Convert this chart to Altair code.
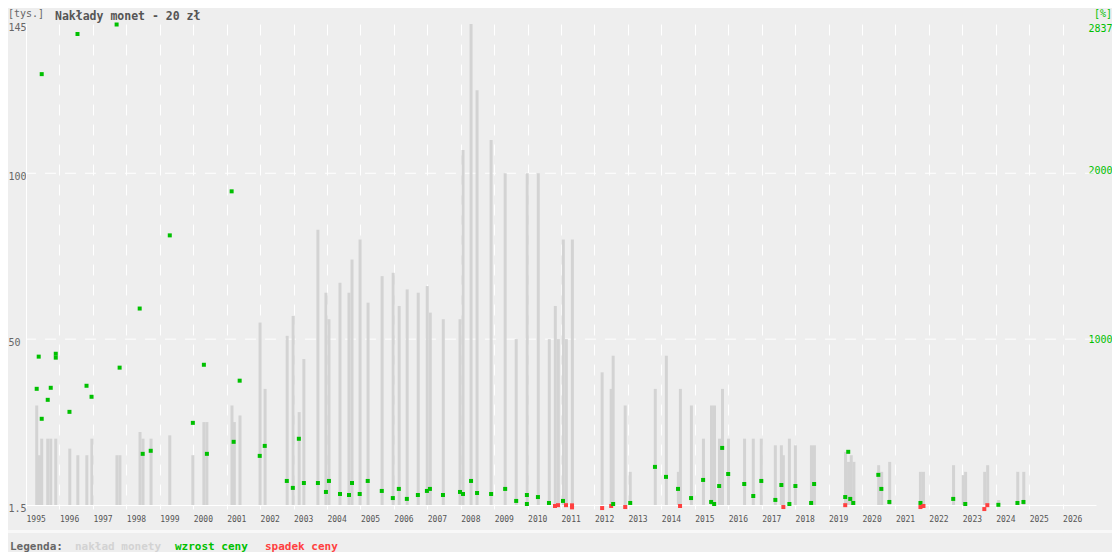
import altair as alt
import pandas as pd

# ---- data (decimal year of issue) ----
bar_year = [1995.32, 1995.40, 1995.47, 1995.65, 1995.74, 1995.89, 1996.31, 1996.55, 1996.82, 1996.97,
            1997.72, 1997.81, 1998.41, 1998.50, 1998.74, 1999.30, 1999.99, 2000.32, 2000.41, 2001.16,
            2001.23, 2001.40, 2002.00, 2002.15, 2002.81, 2002.99, 2003.17, 2003.31, 2003.73, 2003.97,
            2004.06, 2004.39, 2004.66, 2004.75, 2004.99, 2005.23, 2005.65, 2005.98, 2006.16, 2006.40,
            2006.73, 2007.00, 2007.09, 2007.48, 2007.98, 2008.07, 2008.31, 2008.49, 2008.91, 2009.33,
            2009.66, 2009.99, 2010.32, 2010.65, 2010.83, 2010.92, 2011.07, 2011.16, 2011.34, 2012.23,
            2012.50, 2012.56, 2012.92, 2013.07, 2013.82, 2014.15, 2014.51, 2014.57, 2014.90, 2015.26,
            2015.50, 2015.59, 2015.74, 2015.83, 2016.01, 2016.49, 2016.75, 2016.99, 2017.41, 2017.59,
            2017.65, 2017.83, 2018.01, 2018.49, 2018.58, 2019.51, 2019.60, 2019.68, 2019.76, 2020.50,
            2020.59, 2020.83, 2021.75, 2021.84, 2022.74, 2023.03, 2023.10, 2023.67, 2023.76, 2024.09,
            2024.66, 2024.84]
bar_mintage = [30, 15, 20, 20, 20, 20, 17, 15, 15, 20,
               15, 15, 22, 20, 20, 21, 15, 25, 25, 30,
               25, 27, 55, 35, 51, 57, 28, 44, 83, 64,
               56, 67, 64, 74, 80, 61, 69, 70, 60, 65,
               64, 66, 58, 56, 56, 107, 145, 125, 110, 100,
               50, 100, 100, 50, 60, 50, 80, 50, 80, 40,
               35, 45, 30, 10, 35, 45, 10, 35, 30, 20,
               30, 30, 20, 35, 20, 20, 20, 20, 18, 18,
               15, 20, 18, 18, 18, 16, 13, 15, 13, 12,
               10, 13, 10, 10, 12, 9, 10, 10, 12, 1.5,
               10, 10]

dot_year = [1995.32, 1995.38, 1995.47, 1995.47, 1995.65, 1995.74, 1995.89, 1995.89, 1996.30, 1996.54,
            1996.81, 1996.96, 1997.71, 1997.80, 1998.40, 1998.49, 1998.73, 1999.30, 1999.99, 2000.32,
            2000.41, 2001.15, 2001.21, 2001.39, 2001.99, 2002.14, 2002.80, 2002.98, 2003.16, 2003.31,
            2003.73, 2003.97, 2004.06, 2004.39, 2004.66, 2004.75, 2004.98, 2005.22, 2005.64, 2005.97,
            2006.15, 2006.39, 2006.72, 2006.99, 2007.08, 2007.47, 2007.98, 2008.07, 2008.31, 2008.49,
            2008.91, 2009.33, 2009.66, 2009.98, 2009.98, 2010.31, 2010.64, 2010.82, 2010.91, 2011.06,
            2011.15, 2011.33, 2011.33, 2012.23, 2012.50, 2012.56, 2012.92, 2013.07, 2013.81, 2014.14,
            2014.50, 2014.56, 2014.89, 2015.25, 2015.49, 2015.58, 2015.73, 2015.82, 2016.00, 2016.48,
            2016.75, 2016.99, 2017.41, 2017.59, 2017.65, 2017.83, 2018.01, 2018.48, 2018.57, 2019.50,
            2019.50, 2019.59, 2019.65, 2019.74, 2020.49, 2020.58, 2020.82, 2021.75, 2021.75, 2021.84,
            2022.73, 2023.09, 2023.66, 2023.75, 2024.08, 2024.65, 2024.83]
dot_pct = [686, 876, 509, 2544, 621, 692, 893, 870, 550, 2781,
           704, 639, 2837, 811, 1160, 302, 320, 1592, 485, 828,
           302, 1852, 373, 734, 290, 349, 142, 101, 391, 130,
           130, 77, 142, 65, 59, 130, 65, 142, 83, 41,
           95, 36, 59, 83, 95, 59, 77, 65, 142, 71,
           65, 95, 24, 59, 6, 47, 12, -6, -1, 24,
           -1, -2, -14, -18, -6, 6, -12, 12, 225, 166,
           95, -6, 41, 148, 18, 6, 112, 337, 183, 124,
           53, 142, 30, 118, -12, 6, 112, 12, 124, 47,
           -1, 314, 36, 12, 178, 95, 18, 12, -12, -6,
           36, 6, -24, -1, 1, 12, 18]

year_ticks = list(range(1995, 2027))
left_ticks = [0, 50, 100, 145]
right_ticks = [1000, 2000, 2837]
grid_levels = [50, 100]

W, H = 1070, 481
FONT = "DejaVu Sans Mono"
GREEN = "#00c000"
RED = "#ff4040"
BARC = "#d3d3d3"
BG = "#eeeeee"

bars_df = pd.DataFrame({"rok": bar_year, "naklad": bar_mintage})
dots_df = pd.DataFrame({"rok": dot_year, "zmiana": dot_pct})
dots_df["trend"] = ["spadek" if v < 0 else "wzrost" for v in dot_pct]
grid_df = pd.DataFrame({"poziom": grid_levels})

x_scale = alt.Scale(domain=[1995, 2027], nice=False, zero=False, padding=0)
left_scale = alt.Scale(domain=[0, 145], nice=False)
right_scale = alt.Scale(domain=[0, 2840], nice=False)

x_axis = alt.Axis(values=year_ticks, format="d", title=None, labelAlign="left",
                  labelFont=FONT, labelFontSize=8, labelColor="#555555", labelPadding=6,
                  tickColor="white", tickSize=4, domainColor="white", grid=True,
                  gridColor="white", gridDash=[11, 9], gridWidth=1,
                  labelFlush=False, labelOverlap=False)

left_axis = alt.Axis(values=left_ticks, labelExpr="datum.value == 0 ? '1.5' : datum.label",
                     title=None, ticks=False, tickSize=0, grid=False, domainColor="white",
                     labelAlign="left", labelPadding=18, labelFont=FONT, labelFontSize=10,
                     labelColor="#666666", labelBaseline="middle", labelOffset=3,
                     labelFlush=False)

right_axis = alt.Axis(values=right_ticks, format="d", orient="right", title=None,
                      ticks=False, tickSize=0, grid=False, domain=False,
                      labelAlign="right", labelPadding=16, labelFont=FONT, labelFontSize=10,
                      labelColor=GREEN, labelBaseline="middle", labelOffset=4,
                      labelFlush=False)

grid = alt.Chart(grid_df).mark_rule(color="white", strokeDash=[11, 9], strokeWidth=1).encode(
    y=alt.Y("poziom:Q", scale=left_scale, axis=None)
)

bars = alt.Chart(bars_df).mark_bar(size=3, color=BARC).encode(
    x=alt.X("rok:Q", scale=x_scale, axis=x_axis),
    y=alt.Y("naklad:Q", scale=left_scale, axis=left_axis),
)

dots = alt.Chart(dots_df).mark_square(size=16, opacity=1).encode(
    x=alt.X("rok:Q", scale=x_scale, axis=x_axis),
    y=alt.Y("zmiana:Q", scale=right_scale, axis=right_axis),
    color=alt.Color("trend:N", scale=alt.Scale(domain=["wzrost", "spadek"], range=[GREEN, RED]),
                    legend=None),
)


def label(text, x, y, color, size=10, weight="normal", align="left", baseline="middle"):
    return alt.Chart(pd.DataFrame({"t": [text]})).mark_text(
        font=FONT, fontSize=size, fontWeight=weight, color=color, align=align,
        baseline=baseline
    ).encode(x=alt.value(x), y=alt.value(y), text="t:N")


separator = alt.Chart(pd.DataFrame({"t": [0]})).mark_rule(color="#f8f8f8", strokeWidth=3).encode(
    x=alt.value(-18), x2=alt.value(W + 16), y=alt.value(507.5)
)

texts = [
    label("[tys.]", -18, -15, "#666666", 10, baseline="top"),
    label("Nakłady monet - 20 zł", 29, -13, "#555555", 11.5, "bold", baseline="top"),
    label("[%]", W + 16, -15, GREEN, 10, align="right", baseline="top"),
    label("Legenda:", -16, 523, "#666666", 11, "bold"),
    label("nakład monety", 49, 523, BARC, 11, "bold"),
    label("wzrost ceny", 149, 523, GREEN, 11, "bold"),
    label("spadek ceny", 239, 523, RED, 11, "bold"),
]

chart = alt.layer(grid, bars, dots, separator, *texts).resolve_scale(
    y="independent"
).properties(
    width=W, height=H, background=BG,
    padding={"left": 18, "top": 16, "right": 16, "bottom": 47},
    autosize=alt.AutoSizeParams(type="none"),
).configure_view(strokeWidth=0)

chart.save("out.html", embed_options={"renderer": "svg", "actions": False})
